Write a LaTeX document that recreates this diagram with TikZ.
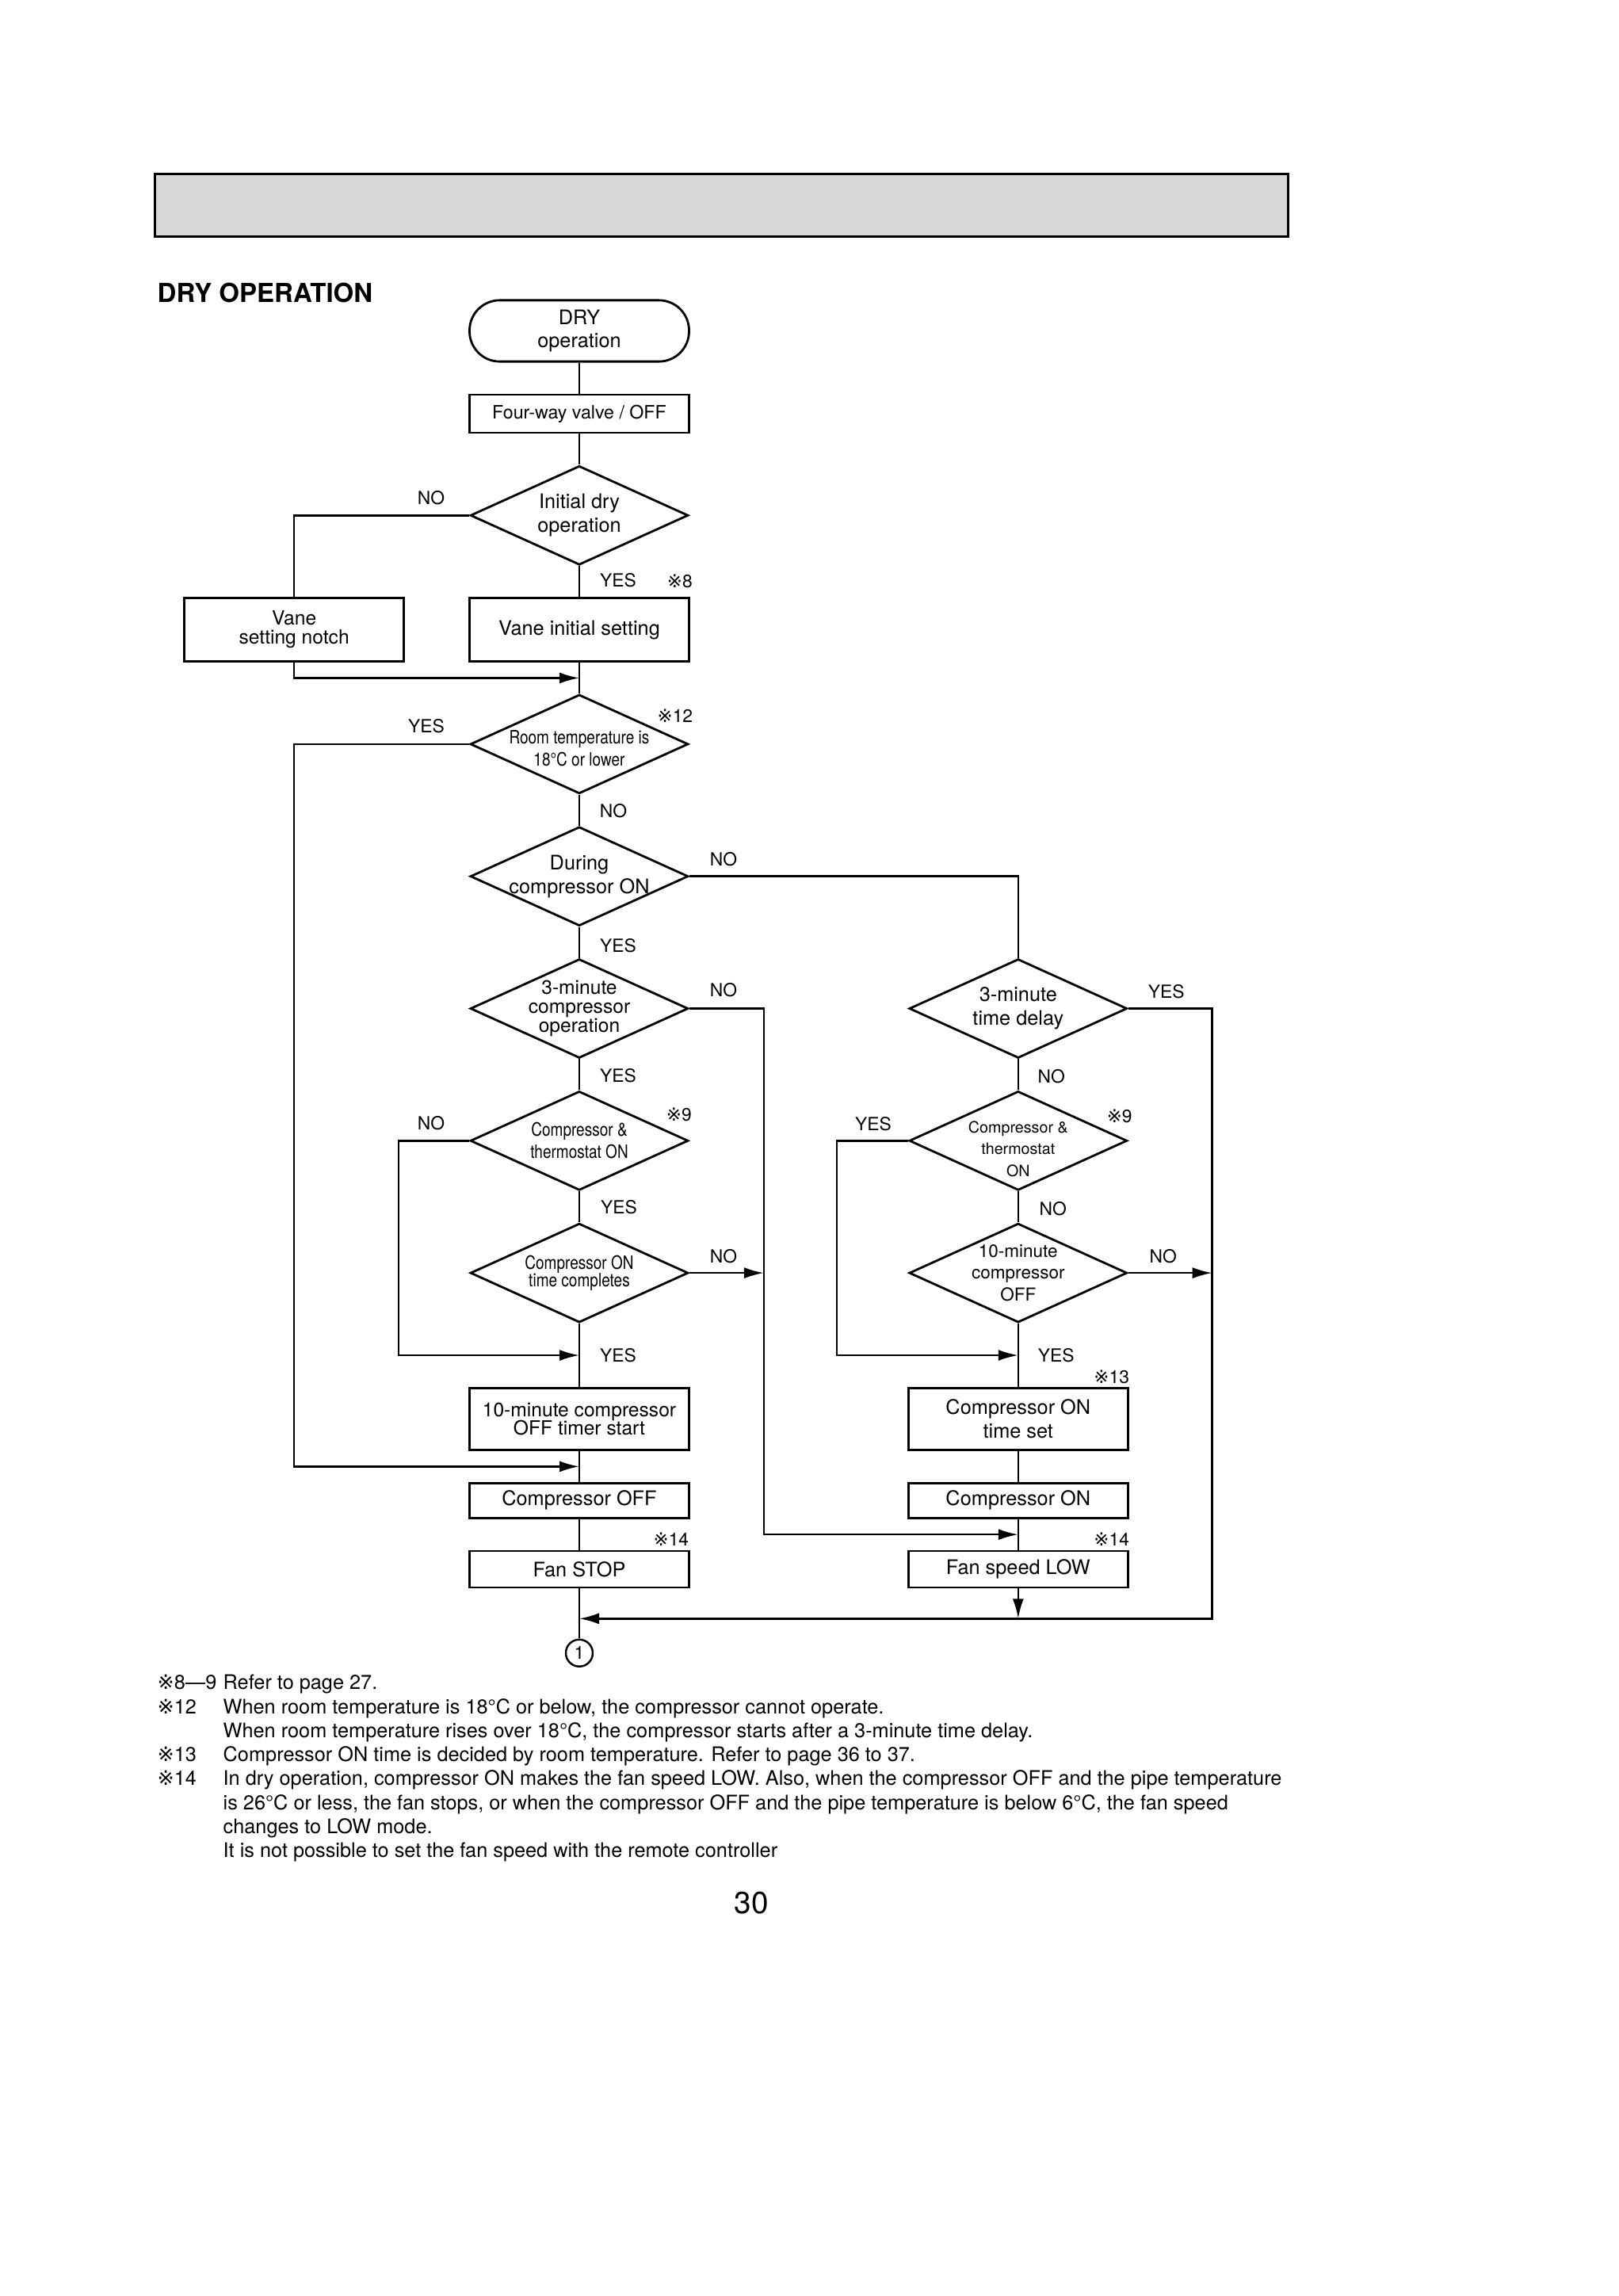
\documentclass[tikz,border=0pt]{standalone}
\usepackage{fontspec}
\setmainfont{TeX Gyre Heros}
\newfontfamily\narrowfont[FakeStretch=0.82]{TeX Gyre Heros}
\newfontfamily\komefont{DejaVu Sans}
\usepackage{xcolor}
\usepackage{tikz}
\usetikzlibrary{shapes.geometric, arrows.meta, positioning, calc}

\definecolor{barfill}{HTML}{D8D8D8}

\newcommand{\boxfont}{\fontsize{7.2}{8.5}\selectfont}
\newcommand{\tightfont}{\fontsize{7}{6.8}\selectfont}
\newcommand{\narrowsmall}{\narrowfont\fontsize{6.6}{7.9}\selectfont}
\newcommand{\smallplain}{\fontsize{5.6}{7.8}\selectfont}
\newcommand{\labelfont}{\fontsize{6.5}{7}\selectfont}
\newcommand{\notefont}{\fontsize{7.2}{8.6}\selectfont}
\newcommand{\titlefont}{\bfseries\fontsize{9.4}{10}\selectfont}
\newcommand{\kome}{{\komefont ※}}

\tikzstyle{bar} = [rectangle, draw=black, fill=barfill, line width=0.9pt, minimum width=14.3cm, minimum height=0.79cm, inner sep=0pt]
\tikzstyle{startstop} = [rectangle, rounded corners=0.38cm, minimum width=2.77cm, minimum height=0.77cm, align=center, draw=black, line width=0.8pt, font=\boxfont]
\tikzstyle{process} = [rectangle, minimum width=2.77cm, minimum height=0.8cm, align=center, draw=black, line width=0.8pt, inner sep=1pt, font=\boxfont]
\tikzstyle{decision} = [diamond, aspect=2.2, minimum width=2.75cm, minimum height=1.25cm, inner sep=-3pt, align=center, draw=black, line width=0.8pt, font=\boxfont]
\tikzstyle{connector} = [circle, draw=black, line width=0.7pt, minimum size=0.34cm, inner sep=0pt, font=\fontsize{6.5}{6.5}\selectfont]
\tikzstyle{answer} = [inner sep=0pt, font=\labelfont]
\tikzstyle{link} = [line width=0.7pt]
\tikzstyle{arrow} = [line width=0.7pt, -{Latex[length=0.25cm, width=0.14cm]}]

\begin{document}
\begin{tikzpicture}[node distance=0.39cm]
\useasboundingbox (0,0) rectangle (20.43,-28.97);

      % Header
      \node (header) [bar, anchor=north west] at (1.94,-2.18) {};
      \node (title) [anchor=west, inner sep=0pt, font=\titlefont] at (1.98,-3.69) {DRY OPERATION};

      % Nodes
      \node (start) [startstop] at (7.31,-4.175) {DRY\\operation};
      \node (four) [process, below=of start, minimum height=0.48cm, font=\fontsize{6.6}{7}\selectfont] {Four-way valve / OFF};
      \node (init) [decision, below=of four] {Initial dry\\operation};
      \node (vinit) [process, below=of init] {Vane initial setting};
      \node (notch) [process, left=0.8cm of vinit, font=\tightfont] {Vane\\setting notch};
      \node (room) [decision, below=of vinit, font=\narrowsmall] {\rule{0pt}{8pt}Room temperature is\\18°C or lower};
      \node (during) [decision, below=of room] {During\\compressor ON};
      \node (threec) [decision, below=of during, font=\tightfont] {3-minute\\compressor\\operation};
      \node (thermoL) [decision, below=of threec, font=\narrowsmall] {Compressor \&\\thermostat ON};
      \node (ontime) [decision, below=of thermoL, font=\narrowfont\fontsize{6.6}{6.4}\selectfont] {Compressor ON\\time completes};
      \node (timer) [process, below=0.8cm of ontime, minimum height=0.78cm, font=\tightfont] {10-minute compressor\\OFF timer start};
      \node (coff) [process, below=of timer, minimum height=0.44cm] {Compressor OFF};
      \node (fstop) [process, below=of coff, minimum height=0.46cm] {Fan STOP};
      \node (circ) [connector, below=0.63cm of fstop] {1};

      \node (delay) [decision, right=2.76cm of threec] {3-minute\\time delay};
      \node (thermoR) [decision, below=of delay, font=\smallplain] {\rule{0pt}{10pt}Compressor \&\\thermostat\\ON};
      \node (tenmin) [decision, below=of thermoR, font=\fontsize{6.4}{7.9}\selectfont] {10-minute\\compressor\\OFF};
      \node (onset) [process, below=0.8cm of tenmin, minimum height=0.78cm] {Compressor ON\\time set};
      \node (con) [process, below=of onset, minimum height=0.44cm] {Compressor ON};
      \node (flow) [process, below=of con, minimum height=0.46cm] {Fan speed LOW};

      % Junctions
      \coordinate (j1) at ($(vinit.south)!0.5!(room.north)$);
      \coordinate (j2) at ($(timer.south)!0.5!(coff.north)$);
      \coordinate (j3) at ($(con.south)!0.5!(flow.north)$);
      \coordinate (j4) at ($(ontime.south)!0.5!(timer.north)$);
      \coordinate (j5) at ($(tenmin.south)!0.5!(onset.north)$);
      \coordinate (j6) at ($(fstop.south)!0.6!(circ.north)$);
      \coordinate (lx) at ($(thermoL.west)+(-0.89,0)$);
      \coordinate (cx) at ($(threec.east)+(0.94,0)$);
      \coordinate (rlx) at ($(thermoR.west)+(-0.9,0)$);
      \coordinate (rx) at ($(delay.east)+(1.06,0)$);

      % Arrows
      \draw [link] (start) -- (four);
      \draw [link] (four) -- (init);
      \draw [link] (init) -- (vinit);
      \draw [link] (init.west) -| (notch.north);
      \draw [arrow] (notch.south) |- (j1);
      \draw [link] (vinit) -- (room);
      \draw [arrow] (room.west) -| (notch.south |- j2) -- (j2);
      \draw [link] (room) -- (during);
      \draw [link] (during.east) -| (delay.north);
      \draw [link] (during) -- (threec);
      \draw [arrow] (threec.east) -- (cx) |- (j3);
      \draw [link] (threec) -- (thermoL);
      \draw [arrow] (thermoL.west) -- (lx) |- (j4);
      \draw [link] (thermoL) -- (ontime);
      \draw [arrow] (ontime.east) -- (cx |- ontime.east);
      \draw [link] (ontime) -- (timer);
      \draw [link] (timer) -- (coff);
      \draw [link] (coff) -- (fstop);
      \draw [link] (fstop) -- (circ);
      \draw [link] (delay) -- (thermoR);
      \draw [arrow] (delay.east) -- (rx) |- (j6);
      \draw [link] (thermoR) -- (tenmin);
      \draw [arrow] (thermoR.west) -- (rlx) |- (j5);
      \draw [arrow] (tenmin.east) -- (rx |- tenmin.east);
      \draw [link] (tenmin) -- (onset);
      \draw [link] (onset) -- (con);
      \draw [link] (con) -- (flow);
      \draw [arrow] (flow) -- (flow.south |- j6);

      % Labels
      \node (initNo) [answer] at ($(init.west)+(-0.48,0.22)$) {NO};
      \node (initYes) [answer] at ($(init.south)+(0.49,-0.18)$) {YES};
      \node (mark8) [answer] at ($(vinit.north east)+(-0.13,0.20)$) {\kome8};
      \node (mark12) [answer] at ($(room.east)+(-0.18,0.36)$) {\kome12};
      \node (roomYes) [answer] at ($(room.west)+(-0.54,0.23)$) {YES};
      \node (roomNo) [answer] at ($(room.south)+(0.43,-0.20)$) {NO};
      \node (duringNo) [answer] at ($(during.east)+(0.43,0.22)$) {NO};
      \node (duringYes) [answer] at ($(during.south)+(0.49,-0.24)$) {YES};
      \node (threecNo) [answer] at ($(threec.east)+(0.43,0.23)$) {NO};
      \node (threecYes) [answer] at ($(threec.south)+(0.49,-0.21)$) {YES};
      \node (mark9L) [answer] at ($(thermoL.east)+(-0.13,0.33)$) {\kome9};
      \node (thermoLNo) [answer] at ($(thermoL.west)+(-0.48,0.22)$) {NO};
      \node (thermoLYes) [answer] at ($(thermoL.south)+(0.50,-0.20)$) {YES};
      \node (ontimeNo) [answer] at ($(ontime.east)+(0.43,0.21)$) {NO};
      \node (ontimeYes) [answer] at ($(ontime.south)+(0.49,-0.40)$) {YES};
      \node (mark14L) [answer] at ($(fstop.north east)+(-0.24,0.13)$) {\kome14};
      \node (delayYes) [answer] at ($(delay.east)+(0.48,0.21)$) {YES};
      \node (delayNo) [answer] at ($(delay.south)+(0.42,-0.22)$) {NO};
      \node (mark9R) [answer] at ($(thermoR.east)+(-0.11,0.31)$) {\kome9};
      \node (thermoRYes) [answer] at ($(thermoR.west)+(-0.44,0.21)$) {YES};
      \node (thermoRNo) [answer] at ($(thermoR.south)+(0.44,-0.22)$) {NO};
      \node (tenminNo) [answer] at ($(tenmin.east)+(0.44,0.21)$) {NO};
      \node (tenminYes) [answer] at ($(tenmin.south)+(0.48,-0.40)$) {YES};
      \node (mark13) [answer] at ($(onset.north east)+(-0.22,0.13)$) {\kome13};
      \node (mark14R) [answer] at ($(flow.north east)+(-0.22,0.13)$) {\kome14};

      % Notes
      \node (notes) [anchor=north west, inner sep=0pt, font=\notefont] at (1.98,-21.1) {%
        \begin{tabular}{@{}p{0.83cm}@{}l@{}}
        \kome8—9 & Refer to page 27.\\
        \kome12 & When room temperature is 18°C or below, the compressor cannot operate.\\
         & When room temperature rises over 18°C, the compressor starts after a 3-minute time delay.\\
        \kome13 & Compressor ON time is decided by room temperature. Refer to page 36 to 37.\\
        \kome14 & In dry operation, compressor ON makes the fan speed LOW. Also, when the compressor OFF and the pipe temperature\\
         & is 26°C or less, the fan stops, or when the compressor OFF and the pipe temperature is below 6°C, the fan speed\\
         & changes to LOW mode.\\
         & It is not possible to set the fan speed with the remote controller
        \end{tabular}};
      \node (pagenum) [inner sep=0pt, font=\fontsize{11}{12}\selectfont] at (9.48,-24.01) {30};

\end{tikzpicture}
\end{document}
